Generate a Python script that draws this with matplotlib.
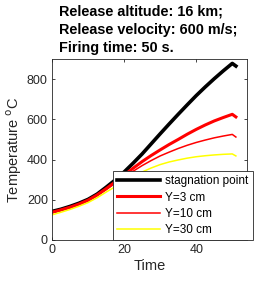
import matplotlib
matplotlib.use("Agg")
import matplotlib.pyplot as plt

plt.rcParams['font.family'] = ['Liberation Sans', 'DejaVu Sans']

time = [0, 2.5, 5, 7.5, 10, 12.5, 15, 17.5, 20, 22.5, 25, 27.5, 30, 32.5,
        35, 37.5, 40, 42.5, 45, 47.5, 50, 51]
stagnation = [142, 153, 167, 183, 202, 228, 262, 298, 338, 382, 428, 478, 528,
              577, 625, 672, 718, 761, 802, 841, 878, 865]
y3 = [138, 150, 163, 179, 198, 224, 255, 288, 322, 357, 390, 420, 448, 475,
      500, 526, 550, 572, 592, 609, 625, 612]
y10 = [135, 147, 160, 176, 195, 220, 250, 282, 312, 342, 370, 395, 418, 437,
       455, 471, 485, 497, 508, 517, 525, 512]
y30 = [125, 138, 152, 168, 186, 210, 238, 265, 290, 315, 338, 358, 375, 388,
       398, 407, 414, 419, 423, 426, 428, 418]

labels = ["stagnation point", "Y=3 cm", "Y=10 cm", "Y=30 cm"]
title_lines = ["Release altitude: 16 km;", "Release velocity: 600 m/s;", "Firing time: 50 s."]

fig = plt.figure(figsize=(2.73, 2.81), dpi=100)
ax = fig.add_axes([52/273, 41/281, (246.7-52)/273, (240-59)/281])

ax.plot(time, stagnation, color='black', lw=2.6, label=labels[0])
ax.plot(time, y3, color=(1, 0, 0), lw=2.2, label=labels[1])
ax.plot(time, y10, color=(1, 0, 0), lw=1.1, label=labels[2])
ax.plot(time, y30, color=(1, 1, 0), lw=1.1, label=labels[3])

ax.set_xlim(0, 54)
ax.set_ylim(0, 900)
ax.set_xticks([0, 20, 40])
ax.set_yticks([0, 200, 400, 600, 800])
gray = (0.15, 0.15, 0.15)
ax.tick_params(direction='in', length=2.5, width=0.6, top=True, right=True,
               labelsize=9, colors=gray, pad=3)
for s in ax.spines.values():
    s.set_color(gray)
    s.set_linewidth(0.6)

ax.set_xlabel("Time", fontsize=10.5, color=gray, labelpad=2)
ax.set_ylabel("Temperature $^{\\mathrm{o}}$C", fontsize=10.5, color=gray, labelpad=2)

leg = ax.legend(loc='lower right', bbox_to_anchor=(1.03, 0.0), borderaxespad=0,
                fontsize=8.5, handlelength=3.6, handletextpad=0.45,
                labelspacing=0.35, fancybox=False, framealpha=1,
                edgecolor=gray, borderpad=0.35)
leg.get_frame().set_linewidth(0.6)

baselines = [15.5, 34.3, 52.3]
for txt, b in zip(title_lines, baselines):
    fig.text(59/273, 1 - b/281, txt, fontsize=10.4, fontweight='bold',
             ha='left', va='baseline', color='black')

fig.savefig("out.png", dpi=100)
